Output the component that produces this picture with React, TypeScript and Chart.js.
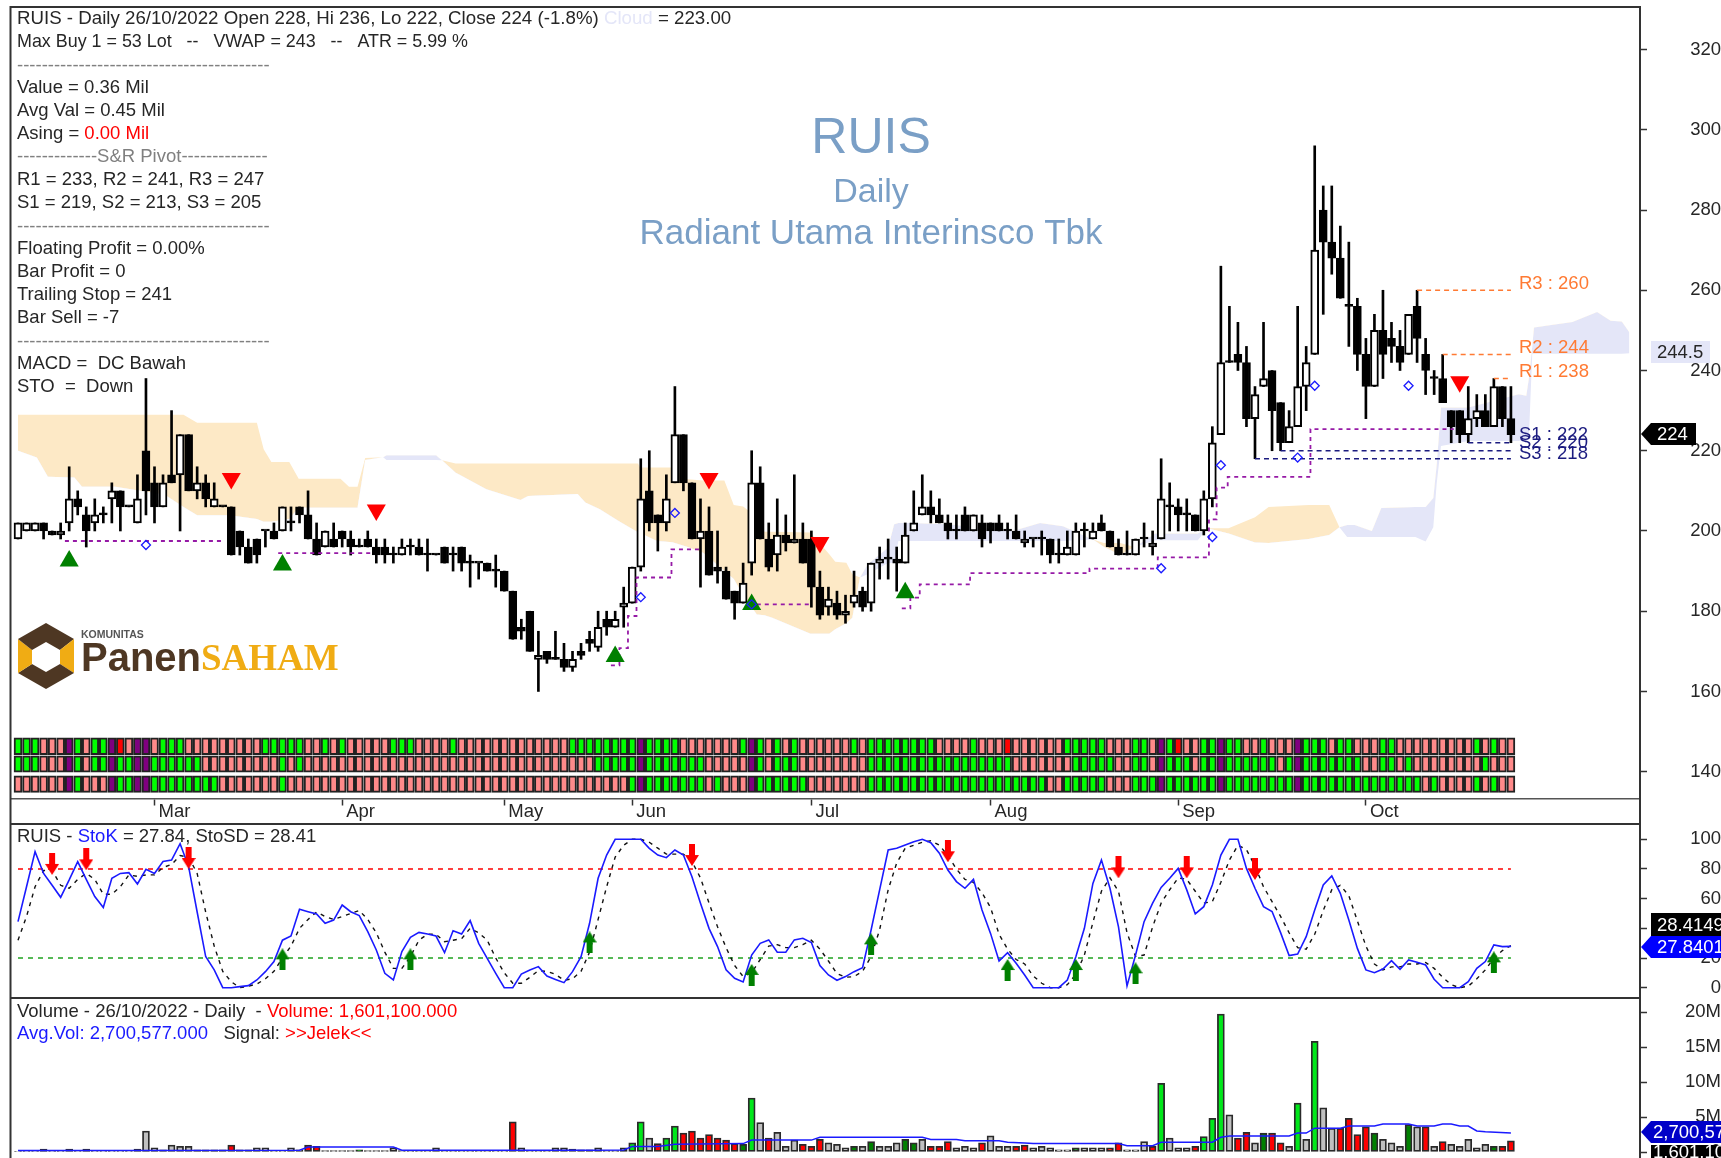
import React, { useEffect, useRef } from "react";
import { Chart, registerables } from "chart.js";

Chart.register(...registerables);

const opens = [
  198,200,200,202,200,199,202,208,204,202,
  204,208,210,206,202,220,212,206,214,214,
  224,210,212,206,206,206,200,196,198,200,
  200,200,202,206,204,198,196,198,200,198,
  196,198,196,196,194,194,196,196,194,194,
  196,194,196,192,192,192,190,190,185,176,
  180,168,170,168,168,166,170,173,171,178,
  176,181,182,191,210,204,202,212,224,212,
  198,200,191,190,185,182,192,212,198,194,
  199,197,198,198,186,181,182,179,182,185,
  182,192,193,193,192,200,204,206,204,202,
  200,204,200,202,202,202,200,200,197,198,
  198,198,194,194,194,200,198,202,200,196,
  194,194,198,196,198,206,206,204,204,200,
  208,224,242,244,242,228,236,240,232,222,
  226,236,244,280,272,268,256,256,244,236,
  250,248,246,244,256,244,238,238,230,230,
  224,228,230,226,236,228,
];
const highs = [
  202,202,202,202,200,202,216,210,206,208,
  206,212,210,206,214,238,216,214,230,224,
  224,216,214,212,206,206,200,198,198,200,
  202,206,206,206,210,202,200,202,200,200,
  198,200,198,198,196,198,198,198,198,194,
  196,196,196,194,192,192,194,190,185,178,
  180,175,170,175,172,170,172,175,180,180,
  180,186,191,218,220,204,214,236,224,212,
  208,206,200,191,185,192,220,216,202,208,
  204,214,202,200,190,186,185,184,190,186,
  192,196,198,196,202,210,214,210,208,204,
  204,206,204,204,202,204,202,204,200,198,
  200,198,198,200,202,202,202,204,200,198,
  200,198,202,200,218,212,208,208,204,210,
  226,266,256,252,246,236,252,240,232,230,
  256,246,296,286,286,276,272,258,248,254,
  260,252,250,254,260,248,240,244,230,230,
  236,234,234,238,236,236,
];
const lows = [
  198,200,200,198,199,198,200,204,196,200,
  202,202,200,206,202,204,202,206,212,200,
  210,208,206,206,206,194,194,192,192,196,
  198,200,200,202,198,194,196,196,196,194,
  196,196,192,192,192,194,194,194,190,194,
  192,190,190,186,188,190,186,185,173,173,
  170,160,167,168,165,165,168,170,170,174,
  176,176,182,190,200,195,200,212,210,198,
  186,189,187,183,178,182,189,198,190,190,
  195,197,192,181,178,179,178,177,181,180,
  180,188,188,185,192,200,204,202,202,198,
  198,200,200,196,197,200,198,198,196,196,
  194,192,192,194,194,196,198,200,196,194,
  194,194,196,194,198,200,200,200,200,199,
  206,224,242,240,226,218,236,220,220,222,
  226,230,244,254,264,258,246,240,228,236,
  238,242,240,244,242,234,234,232,222,222,
  222,226,226,226,226,222,
];
const closes = [
  202,202,202,200,199,200,208,206,200,204,
  204,210,206,206,208,210,206,212,212,224,
  210,212,208,208,206,194,196,192,194,200,
  198,206,202,204,198,194,200,196,198,196,
  196,196,194,194,194,196,196,194,194,194,
  192,194,192,192,192,190,190,185,173,175,
  170,169,168,168,166,168,169,172,176,176,
  178,182,191,208,202,202,208,224,212,198,
  200,189,190,183,182,187,212,198,191,199,
  197,198,192,186,179,183,179,180,184,181,
  192,193,193,192,199,202,206,204,202,200,
  200,200,204,198,200,200,200,198,198,198,
  198,194,194,196,200,200,200,200,196,194,
  194,198,198,197,208,206,204,204,200,208,
  222,242,242,242,228,234,238,230,222,226,
  236,242,270,272,268,258,256,244,236,250,
  244,246,242,254,248,240,238,232,226,224,
  228,230,226,236,228,224,
];

const monthStarts = [16, 38, 57, 72, 93, 114, 136, 158];
const monthLabels = ["Mar", "Apr", "May", "Jun", "Jul", "Aug", "Sep", "Oct"];

const cloudX = [0,2.2,3.5,6.6,7.5,11.4,17.2,19.4,21,24.8,28,28.8,29.7,31.8,32.9,37.8,38.8,39.8,40.7,42.8,43.2,49,49.7,51.3,51.7,54.9,58.9,59.8,65.6,66.5,68.2,70.4,72.7,72.9,74.9,76.7,78.5,80.3,82.8,83.9,85,86.6,87.5,88.4,92.9,95.1,95.8,97.1,97.8,98.7,99.6,102,102.7,103.2,104.9,109,116.6,119.8,122.5,126,127.3,129.2,130.9,133.3,138.3,139.4,141.9,145,146.6,151.3,153.7,154.9,155.8,156.7,158.7,159.8,163.8,165,165.9,166.3,166.8,170,175.9,176.8,177.1,177.5,177.7,179.5,182.2,185.1,186.7,188,188.9];
const cloudB = [229,229,229,229,229,229,229,229,227,227,227,220.4,217.2,217.2,213,213,211,211,218.2,218.4,217.7,217.7,217.6,216.8,216.8,216.8,216.8,216.8,216.8,216.8,216.8,216.8,216.8,215.8,215.8,215.8,212.9,212.6,212.6,206.5,206.1,203.5,199.8,199.8,199.6,194.2,192.3,192.1,189.2,188.4,189.2,192,192,197.5,197.5,197.5,197.5,197.5,197.5,197.9,197,197,196,197.7,197.7,200.7,200.7,203.4,206,206.5,206.5,200.9,198.5,198.5,198.5,198.5,198.5,197.4,200.9,211.9,221.2,222.4,222.4,222.9,222.9,244.2,244.2,244.2,244.2,244.2,244.2,244.2,244.3];
const cloudA = [220,218.3,213.5,213.3,211,211,209,206,203.9,203.9,203,202.3,202.3,203,205.8,205.8,205.8,205.8,217.7,218.4,218.9,218.9,217.6,214.5,214.1,210.4,207.7,208.7,209.2,207.1,205.4,202.5,199.6,199.5,197.5,197.2,196,194.6,190,188,184,179.2,179,178.4,174.4,174.4,175.5,177,178.4,188.4,191.7,195.9,201.7,202,202,201.7,200,202,201.2,197.9,196,194,196,199.4,199.4,200.7,199.4,197.1,197,198,199,200.9,201.5,201.5,200,205.7,206,206,208.2,216.6,230.8,230.8,234.1,233.7,238,246,250.7,251.3,252.1,254.6,252.4,252.2,249.5];

const stopX = [5.5,24.1,24.2,30.5,41.6,41.7,69.5,70.5,71.5,72.5,76.6,79.9,80,86.6,93,93.1,103.6,104.6,105.7,111.6,125.6,133.6,139.6,140.5,141.8,151.5,168.3];
const stopY = [197.5,197.5,null,194.5,194.5,null,166.5,170.8,178.8,188.4,195.4,195.4,null,181.7,181.7,null,180.7,183.4,186.7,189.5,190.6,193.4,202.9,210.8,213.5,225.4,225.4];

const diamondX = [15,73,77,86,134,140,141,150,152,163];
const diamondY = [196.5,183.5,204.5,181.7,190.7,198.5,216.4,218.3,236.2,236.2];
const buyX = [6,31,70,86,104];
const buyY = [192.5,191.5,168.7,181.7,184.6];
const sellX = [25,42,81,94,169];
const sellY = [213.1,205.2,213.1,197.1,237.2];

const pivots = [
  { label: "R3 : 260", value: 260, from: 164, to: 175, color: "#ff7a33", dy: -6.5 },
  { label: "R2 : 244", value: 244, from: 167, to: 175, color: "#ff7a33", dy: -6.5 },
  { label: "R1 : 238", value: 238, from: 173, to: 175, color: "#ff7a33", dy: -6.5 },
  { label: "S1 : 222", value: 222, from: 170, to: 175, color: "#1c1c80", dy: -7.5 },
  { label: "S2 : 220", value: 220, from: 148, to: 175, color: "#1c1c80", dy: -8 },
  { label: "S3 : 218", value: 218, from: 145, to: 175, color: "#1c1c80", dy: -5 },
];

const heatRow1 = "gggpppvgpg"+"gvrpvvpggg"+"pppppppppg"+"ggggppgpgp"+"ppppgggppp"+"pgpppppppp"+"pppppggggg"+"gggvggggpp"+"pppppgvgpg"+"pgppppppgp"+"ggggggggpp"+"ppgppprppp"+"pppgggggpp"+"pggpvgrppg"+"gvggppgppp"+"vgggpggppp"+"ggpppppppp"+"pgpgpp";
const heatRow2 = "gggpppvgpg"+"gvggvvgggg"+"ggpppppppp"+"pgpgpppppp"+"pppppppppp"+"pppppppppp"+"ppppppppgg"+"gggvgggggg"+"gpppppvgpg"+"ggpppppppp"+"gggggggggg"+"gggggggppp"+"ppppgggggp"+"pggpvgggpg"+"gvggggggpg"+"vgggggggpp"+"ggpgpppppp"+"ppgppp";
const heatRow3 = "ppppppvgpp"+"pvggvvgggg"+"ggggpppppp"+"pgpppppppp"+"pppppppppp"+"pppppppppp"+"pppppppppp"+"ppgvgggggg"+"gpgpppvggg"+"gggppppppp"+"gggggggggg"+"gggggggggg"+"gppgggggpp"+"pgggvggggg"+"gvgggggggg"+"vggggggggg"+"gggggpgppp"+"pgpgpp";
const heatBands = [[148.45, 144.25], [143.95, 139.85], [138.95, 134.85]];

const stoK = [
  44.5,68,91.7,77,69,60.9,72.6,85,73,61.4,
  54,73.7,77,77.5,69.9,79.8,77,85,86,97,
  81.6,51,21,12,0,0,0.7,1.4,5.2,10.8,
  17.6,32,34.8,52.8,51.2,49.7,43.4,45.6,55.7,51.2,
  48.6,37.8,25.4,9.7,5.2,24.3,34,37.3,36.2,34.8,
  23.6,38.4,36.2,45.2,29.9,19.8,9.7,0,0,9.2,
  11.9,14.2,7.9,5.6,3.4,10.8,20.9,43.4,73.7,89.4,
  100,100,100,100,93.9,89.4,87.6,92.8,89.4,74.8,
  56.9,40,27.7,12,6.3,3.9,22,29.9,32.2,23.9,
  23.9,32.2,33.3,30.4,14.9,8.6,5,7.5,10.8,13.5,
  38.9,65.9,92.8,93.9,96.2,98.4,100,97.7,90.6,79.3,
  71.5,67,73,52.4,36.6,18,23.6,16.4,8.6,0,
  0,0,0,5.2,20.9,40,70.3,86,67,41,
  1.2,22,44.5,57,67.6,73.7,80.4,65.9,49.7,54.6,
  69.2,89.4,100,100,80.4,67,54.6,51.3,37.1,21.6,
  22.7,34.4,52.4,69.2,75.3,63.6,45.6,26.5,12,10.1,
  12.6,18.2,12.4,18.7,17.1,15.3,5.7,0,0,0,
  4,13,17.6,28.8,27.7,27.84,
];
const stoD = [
  32,48,68,79,79,69,67,73,77,73,
  63,63,68,76,75,76,76,81,83,89,
  88,77,51,28,11,4,0,1,2.5,6,
  11,20,28,40,46,51,48,46,48,50,
  52,46,37,24,13,13,21,32,36,36,
  31,32,33,40,37,32,20,10,3,3,
  7,11.5,11,9,5,6,11,24,46,68,
  88,96,100,100,98,94,90,90,90,85,
  74,57,41,27,15,7.5,10,19,28,29,
  27,27,29,32,26,18,9.5,7,7.5,11,
  21,39,66,84,94,96,98,99,96,89,
  80,73,71,64,54,36,26,19,16,8,
  3,0,0,2,9,22,44,65,74,65,
  37,21,22,41,57,66,74,73,65,57,
  58,71,86,96,93,82,68,58,48,37,
  27,26,36,52,66,69,62,45,28,16,
  12,14,14,16,16,17,13,7,2,0,
  1,6,12,20,25,28.41,
];
const stoUpper = 80;
const stoLower = 20;
const stoSellX = [4,8,20,79,109,129,137,145];
const stoSellY = [83.4,86.5,87.4,89.4,91.9,81.1,81.1,80];
const stoBuyX = [31,46,67,86,100,116,124,131,173];
const stoBuyY = [19.1,19.1,30.5,8.6,29.2,11.9,11.9,9.7,17.1];

const volumes = [
  .05,.05,.05,.4,.05,.05,.4,.1,.4,.1,
  .1,.1,.1,.1,.4,3,.6,.3,1,.8,
  .8,.3,.3,.3,.3,1,.3,.3,.6,.6,
  .2,.2,.6,.3,1,.8,.2,.2,.2,.2,
  .3,.2,.2,.2,.6,.2,.2,.2,.2,.6,
  .2,.2,.2,.2,.2,.2,.1,.1,4.3,.6,
  .2,.2,.2,.6,.6,.4,.3,.3,.6,.2,
  .2,.6,1.3,4.3,2,1.2,2,3.7,2.7,3,
  2,2.5,2,1.7,1.2,1.1,7.7,4.2,2,2.8,
  .8,1.7,1.1,.8,1.8,1.3,1.1,.6,.8,.8,
  1.5,.8,.8,1.3,1.8,1.3,1.8,.8,.8,1.5,
  .6,.8,.6,1.3,2.3,.8,.8,.8,1,.6,
  .8,.6,.3,.3,.6,.6,.6,.6,.6,1.3,
  .3,.3,1.5,.8,9.8,2,.6,.6,.8,2.2,
  4.8,19.7,5.3,2,2.8,1.3,2.7,2.7,1.3,.8,
  7,1.8,15.8,6.3,3.4,3.4,4.8,2.5,3.6,2.7,
  1.8,1.3,.8,3.9,3.6,3.6,.8,1.5,1.1,.8,
  1.8,.6,1.1,.8,.8,1.6,
];
const volumeKinds = "SSSSSSSSSS"+"SSSSSSSSSS"+"SSSSSRSSSS"+"SSSSRRSSSS"+"DSSSSSSSSS"+"SSSSSSSSRS"+"SSSSSSSSSS"+"SSGGSRGGRR"+"RRRRRDGSRS"+"SSRRRSSSDS"+"DSSSDDSRRR"+"SSSRSSSRRS"+"SSSSDSSSRR"+"SSSRGSSSRG"+"GGSRRSDRRS"+"GSGSSRRRRD"+"SSSDSRSRSS"+"SSSDRR";
const volMaX = [0,33,34,44,45,67,71,72,75,77,85,86,93,94,106,107,110,111,115,116,118,119,129,130,133,134,140,141,142,149,150,151,152,155,156,159,160,163,164,166,167,168,169,170,171,172,175];
const volMaY = [.2,.25,.7,.7,.25,.25,.3,.8,.8,1.1,1.2,1.7,1.7,2.1,2.1,1.8,1.8,1.6,1.6,1.4,1.3,1.2,1.2,.9,.9,1.4,1.4,2.1,2.3,2.3,2.7,2.7,3.4,3.4,3.7,3.7,4,4,3.7,3.7,4,4,3.7,3.7,3,2.9,2.7];

const priceTicks = [140,160,180,200,220,240,260,280,300,320];
const stoTicks = [0,20,40,60,80,100];
const volTicks = [0,5,10,15,20];

const DASHES = "-----------------------------------------";
const infoLines = [
  { y: 66, text: DASHES, color: "#808080" },
  { y: 88, text: "Value = 0.36 Mil" },
  { y: 111, text: "Avg Val = 0.45 Mil" },
  { y: 157, text: "-------------S&R Pivot--------------", color: "#808080" },
  { y: 180, text: "R1 = 233, R2 = 241, R3 = 247" },
  { y: 203, text: "S1 = 219, S2 = 213, S3 = 205" },
  { y: 227, text: DASHES, color: "#808080" },
  { y: 249, text: "Floating Profit = 0.00%" },
  { y: 272, text: "Bar Profit = 0" },
  { y: 295, text: "Trailing Stop = 241" },
  { y: 318, text: "Bar Sell = -7" },
  { y: 342, text: DASHES, color: "#808080" },
  { y: 364, text: "MACD =  DC Bawah" },
  { y: 387, text: "STO  =  Down" },
];

const COLORS: Record<string, string> = {
  g: "#00ff00", p: "#ff8a8a", v: "#800080", r: "#ff0000",
  G: "#00e81a", D: "#008000", R: "#ff0000", S: "#c0c0c0",
};
const FONT = '"Liberation Sans", Arial, sans-serif';
const INK = "#262626";
const TXT = 18.5;

function pts(xs: number[], ys: (number | null)[]) {
  return xs.map((x, i) => ({ x, y: ys[i] }));
}

function arrowSprite(color: string, down: boolean) {
  const c = document.createElement("canvas");
  c.width = 14;
  c.height = 22;
  const g = c.getContext("2d")!;
  g.fillStyle = color;
  g.beginPath();
  const pts2 = [[7,0],[14,11],[10,11],[10,22],[4,22],[4,11],[0,11]];
  pts2.forEach(([x, y], i) => {
    const yy = down ? 22 - y : y;
    if (i === 0) g.moveTo(x, yy); else g.lineTo(x, yy);
  });
  g.closePath();
  g.fill();
  return c;
}

function spans(ctx: CanvasRenderingContext2D, x: number, y: number, parts: [string, string][]) {
  let cx = x;
  for (const [text, color] of parts) {
    ctx.fillStyle = color;
    ctx.fillText(text, cx, y);
    cx += ctx.measureText(text).width;
  }
}

function tag(ctx: CanvasRenderingContext2D, left: number, arrowTip: number | null, top: number, bottom: number, right: number, bg: string, fg: string, text: string, textX: number) {
  ctx.fillStyle = bg;
  ctx.beginPath();
  if (arrowTip !== null) {
    ctx.moveTo(arrowTip, (top + bottom) / 2);
    ctx.lineTo(left, top);
  } else {
    ctx.moveTo(left, top);
  }
  ctx.lineTo(right, top);
  ctx.lineTo(right, bottom);
  ctx.lineTo(left, bottom);
  ctx.closePath();
  ctx.fill();
  ctx.fillStyle = fg;
  ctx.textAlign = "left";
  ctx.textBaseline = "middle";
  ctx.font = `${TXT}px ${FONT}`;
  ctx.fillText(text, textX, (top + bottom) / 2 + 1);
}

function drawLogo(ctx: CanvasRenderingContext2D) {
  const brown = "#4e3723";
  const gold = "#f0ac14";
  const cx = 46;
  const outer = [[cx, 623], [74, 639], [74, 673], [cx, 689], [18, 673], [18, 639]];
  const inner = [[cx, 642], [60, 650], [60, 664], [cx, 672], [32, 664], [32, 650]];
  const colors = [brown, gold, brown, brown, gold, brown];
  outer.forEach((p, i) => {
    const n = (i + 1) % 6;
    ctx.fillStyle = colors[i];
    ctx.beginPath();
    ctx.moveTo(p[0], p[1]);
    ctx.lineTo(outer[n][0], outer[n][1]);
    ctx.lineTo(inner[n][0], inner[n][1]);
    ctx.lineTo(inner[i][0], inner[i][1]);
    ctx.closePath();
    ctx.fill();
  });
  ctx.textAlign = "left";
  ctx.textBaseline = "alphabetic";
  ctx.font = `bold 10.5px ${FONT}`;
  ctx.fillStyle = "#555";
  ctx.fillText("KOMUNITAS", 81, 638);
  ctx.font = `bold 40px ${FONT}`;
  ctx.fillStyle = brown;
  ctx.fillText("Panen", 81, 671);
  ctx.font = 'bold 37px "Liberation Serif", serif';
  ctx.fillStyle = gold;
  ctx.fillText("SAHAM", 201, 670);
}

const overlay = {
  id: "overlay",
  afterDraw(chart: any) {
    const ctx: CanvasRenderingContext2D = chart.ctx;
    const y = chart.scales.y;
    ctx.save();

    ctx.fillStyle = "#fff";
    ctx.fillRect(0, 0, 1721, 6);
    ctx.fillRect(0, 0, 10, 1158);

    ctx.strokeStyle = "#333";
    ctx.lineWidth = 2;
    ctx.beginPath();
    ctx.moveTo(10.5, 6); ctx.lineTo(10.5, 1158);
    ctx.moveTo(10, 7); ctx.lineTo(1641, 7);
    ctx.moveTo(10, 824); ctx.lineTo(1641, 824);
    ctx.moveTo(10, 998); ctx.lineTo(1641, 998);
    ctx.stroke();

    ctx.textAlign = "center";
    ctx.textBaseline = "middle";
    ctx.fillStyle = "#7a9fc6";
    ctx.font = `50px ${FONT}`;
    ctx.fillText("RUIS", 871, 139);
    ctx.font = `34px ${FONT}`;
    ctx.fillText("Daily", 871, 193);
    ctx.font = `35px ${FONT}`;
    ctx.fillText("Radiant Utama Interinsco Tbk", 871, 234);

    ctx.textAlign = "left";
    ctx.font = `18.7px ${FONT}`;
    spans(ctx, 17, 19, [["RUIS - Daily 26/10/2022 Open 228, Hi 236, Lo 222, Close 224 (-1.8%)", INK], [" Cloud", "#e4e6f8"], [" = 223.00", INK]]);
    ctx.font = `17.9px ${FONT}`;
    spans(ctx, 17, 42, [["Max Buy 1 = 53 Lot   --   VWAP = 243   --   ATR = 5.99 %", INK]]);
    ctx.font = `${TXT}px ${FONT}`;
    infoLines.forEach((l) => {
      ctx.fillStyle = l.color || INK;
      ctx.fillText(l.text, 17, l.y);
    });
    spans(ctx, 17, 134, [["Asing = ", INK], ["0.00 Mil", "#ff0000"]]);

    pivots.forEach((p) => {
      ctx.fillStyle = p.color;
      ctx.fillText(p.label, 1519, y.getPixelForValue(p.value) + p.dy);
    });

    drawLogo(ctx);
    ctx.textBaseline = "middle";
    ctx.textAlign = "left";
    ctx.font = `${TXT}px ${FONT}`;

    spans(ctx, 17, 837, [["RUIS - ", INK], ["StoK", "#1a1aff"], [" = 27.84, StoSD = 28.41", INK]]);
    spans(ctx, 17, 1012, [["Volume - 26/10/2022 - Daily  - ", INK], ["Volume: 1,601,100.000", "#ff0000"]]);
    spans(ctx, 17, 1034, [["Avg.Vol: 2,700,577.000", "#1a1aff"], ["   Signal: ", INK], [">>Jelek<<", "#ff0000"]]);

    tag(ctx, 1651, 1641, 423, 445, 1696, "#000", "#fff", "224", 1657);
    tag(ctx, 1651, null, 341, 363, 1710, "#e4e6f8", INK, "244.5", 1657);
    tag(ctx, 1651, null, 913, 936, 1721, "#000", "#fff", "28.4149", 1657);
    tag(ctx, 1651, 1641, 936, 958, 1721, "#0000ff", "#fff", "27.8401", 1657);
    tag(ctx, 1651, 1641, 1121, 1143, 1721, "#0000c8", "#fff", "2,700,577", 1653);
    tag(ctx, 1651, null, 1145, 1158, 1721, "#000", "#fff", "1,601,100", 1653);
    ctx.restore();
  },
};

function yAxis(extra: any, ticks: number[], padding: number, label: (v: number) => string) {
  return {
    position: "right",
    stack: "panes",
    afterFit(s: any) { s.width = 81; s.paddingTop = 0; s.paddingBottom = 0; },
    afterBuildTicks(s: any) { s.ticks = ticks.map((value) => ({ value })); },
    border: { display: true, color: "#333", width: 2 },
    grid: { drawOnChartArea: false, drawTicks: true, tickLength: 7, tickColor: "#333", tickWidth: 1.5 },
    ticks: { autoSkip: false, padding, crossAlign: "far", color: INK, font: { family: FONT, size: TXT }, callback: (v: number) => label(v) },
    ...extra,
  };
}

export default function App() {
  const ref = useRef<HTMLCanvasElement>(null);
  useEffect(() => {
    const idx = opens.map((_, i) => i);
    const lineBase = { type: "line", pointRadius: 0, tension: 0, fill: false };
    const barBase = { type: "bar", grouped: false, borderSkipped: false };
    const heat = (row: string, band: number[], order: number) => ({
      ...barBase,
      yAxisID: "y",
      order,
      data: idx.map((x) => ({ x, y: band })),
      backgroundColor: idx.map((i) => COLORS[row[i]]),
      borderColor: "#222",
      borderWidth: 2,
      barThickness: 8,
    });
    const markers = (xs: number[], ys: number[], yAxisID: string, style: any, extra: any) => ({
      type: "line",
      showLine: false,
      yAxisID,
      data: pts(xs, ys),
      pointStyle: style,
      ...extra,
    });
    const datasets: any[] = [
      { ...lineBase, yAxisID: "y", order: 60, data: pts(cloudX, cloudB), borderWidth: 0, borderColor: "transparent", fill: { target: "+1", above: "#fde9c6", below: "#e4e6f8" } },
      { ...lineBase, yAxisID: "y", order: 61, data: pts(cloudX, cloudA), borderWidth: 0, borderColor: "transparent" },
      { ...barBase, yAxisID: "y", order: 40, data: idx.map((x) => ({ x, y: [lows[x], highs[x]] })), backgroundColor: "#000", barThickness: 2, minBarLength: 1 },
      { ...barBase, yAxisID: "y", order: 39, data: idx.map((x) => ({ x, y: [opens[x], closes[x]] })),
        backgroundColor: idx.map((i) => (closes[i] > opens[i] ? "#fff" : "#000")),
        borderColor: "#000", borderWidth: 2, barThickness: 8, minBarLength: 2 },
      { ...lineBase, yAxisID: "y", order: 30, stepped: true, data: pts(stopX, stopY), borderColor: "#961aa6", borderWidth: 1.8, borderDash: [4, 4], spanGaps: false },
      ...pivots.map((p) => ({ ...lineBase, yAxisID: "y", order: 29, data: pts([p.from, p.to], [p.value, p.value]), borderColor: p.color, borderWidth: 1.5, borderDash: [5, 4] })),
      heat(heatRow1, heatBands[0], 28),
      heat(heatRow2, heatBands[1], 27),
      heat(heatRow3, heatBands[2], 26),
      markers(diamondX, diamondY, "y", "rectRot", { pointRadius: 4.5, pointBorderColor: "#1a1aff", pointBackgroundColor: "transparent", pointBorderWidth: 1.3, order: 10 }),
      markers(buyX, buyY, "y", "triangle", { pointRadius: 11, pointBorderWidth: 0, pointBorderColor: "#008000", pointBackgroundColor: "#008000", order: 11 }),
      markers(sellX, sellY, "y", "triangle", { pointRadius: 11, pointRotation: 180, pointBorderWidth: 0, pointBorderColor: "#ff0000", pointBackgroundColor: "#ff0000", order: 11 }),

      { ...lineBase, yAxisID: "yS", order: 25, data: pts([0, 175], [stoUpper, stoUpper]), borderColor: "#ff0000", borderWidth: 1.5, borderDash: [5, 5] },
      { ...lineBase, yAxisID: "yS", order: 25, data: pts([0, 175], [stoLower, stoLower]), borderColor: "#1fa31f", borderWidth: 1.5, borderDash: [5, 5] },
      { ...lineBase, yAxisID: "yS", order: 24, data: pts(idx, stoD), borderColor: "#111", borderWidth: 1.4, borderDash: [4, 5] },
      { ...lineBase, yAxisID: "yS", order: 23, data: pts(idx, stoK), borderColor: "#1a1aff", borderWidth: 1.6 },
      markers(stoSellX, stoSellY, "yS", arrowSprite("#ff0000", true), { pointRadius: 11, order: 12 }),
      markers(stoBuyX, stoBuyY, "yS", arrowSprite("#008000", false), { pointRadius: 11, order: 12 }),

      { ...barBase, yAxisID: "yV", order: 22, data: idx.map((x) => ({ x, y: volumes[x] })),
        backgroundColor: idx.map((i) => COLORS[volumeKinds[i]]), borderColor: "#2a2a2a", borderWidth: 1.8, barThickness: 7 },
      { ...lineBase, yAxisID: "yV", order: 21, data: pts(volMaX, volMaY), borderColor: "#1a1aff", borderWidth: 1.5 },
    ];

    const chart = new Chart(ref.current!, {
      data: { datasets },
      plugins: [overlay],
      options: {
        responsive: false,
        animation: false,
        devicePixelRatio: 1,
        layout: { padding: 0, autoPadding: false },
        plugins: { legend: { display: false }, tooltip: { enabled: false }, title: { display: false } },
        events: [],
        scales: {
          x: {
            type: "linear",
            offset: false,
            min: -2.11,
            max: 190.13,
            position: { y: 133.2 },
            afterFit(s: any) { s.paddingLeft = 0; s.paddingRight = 0; },
            afterBuildTicks(s: any) { s.ticks = monthStarts.map((value) => ({ value })); },
            border: { display: true, color: "#555", width: 1.5 },
            grid: { offset: false, drawOnChartArea: false, drawTicks: true, tickLength: 6, tickColor: "#333", tickWidth: 1.5 },
            ticks: { autoSkip: false, maxRotation: 0, align: "start", padding: -4, labelOffset: 4, color: INK, font: { family: FONT, size: TXT },
              callback: (v: number) => monthLabels[monthStarts.indexOf(v)] },
          },
          y: yAxis({ min: 126.96, max: 332.35, stackWeight: 824, weight: 1 }, priceTicks, 49, (v) => String(v)),
          yS: yAxis({ min: -6.94, max: 110.3, stackWeight: 174, weight: 2 }, stoTicks, 49, (v) => String(v)),
          yV: yAxis({ min: -0.857, max: 22, stackWeight: 160, weight: 3 }, volTicks, 44, (v) => (v === 0 ? "0" : v + "M")),
        },
      } as any,
    } as any);
    return () => chart.destroy();
  }, []);
  return (
    <canvas
      ref={ref}
      width={1721}
      height={1158}
      style={{ position: "fixed", left: 0, top: 0, display: "block", background: "#fff" }}
    />
  );
}
